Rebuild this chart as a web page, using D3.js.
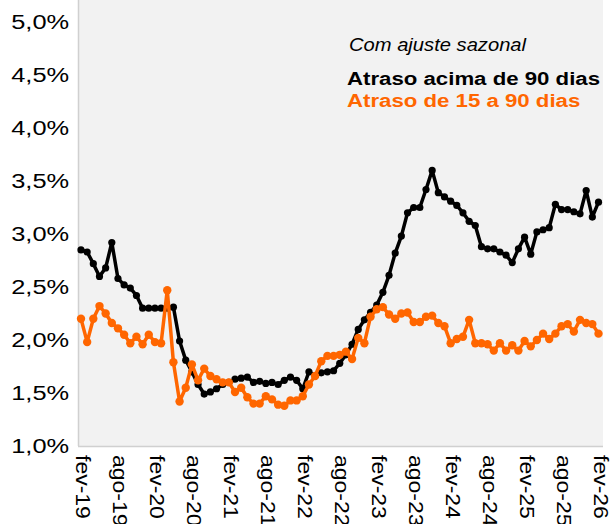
<!DOCTYPE html>
<html>
<head>
<meta charset="utf-8">
<script src="https://cdn.jsdelivr.net/npm/d3@7"></script>
<style>
  body { margin: 0; background: #fff; }
  text { font-family: 'Liberation Sans', Arial, sans-serif; }
</style>
</head>
<body>
<svg id="chart" width="611" height="524"></svg>
<script>
// monthly categories fev-19 .. fev-26
const monthNames = ['jan', 'fev', 'mar', 'abr', 'mai', 'jun', 'jul', 'ago', 'set', 'out', 'nov', 'dez'];
const months = d3.range(85).map((i) => {
  const m = (1 + i) % 12;
  const y = 19 + Math.floor((1 + i) / 12);
  return monthNames[m] + '-' + y;
});

const tickLabels = ['fev-19', 'ago-19', 'fev-20', 'ago-20', 'fev-21', 'ago-21', 'fev-22', 'ago-22',
  'fev-23', 'ago-23', 'fev-24', 'ago-24', 'fev-25', 'ago-25', 'fev-26'];
const yTicks = [1.0, 1.5, 2.0, 2.5, 3.0, 3.5, 4.0, 4.5, 5.0];

// Atraso acima de 90 dias (%)
const over90 = [
  2.85, 2.83, 2.72, 2.60, 2.68, 2.92, 2.58, 2.52, 2.49, 2.42,
  2.30, 2.30, 2.30, 2.30, 2.30, 2.31, 1.99, 1.81, 1.70, 1.58,
  1.49, 1.51, 1.54, 1.58, 1.60, 1.63, 1.64, 1.65, 1.60, 1.61,
  1.59, 1.60, 1.58, 1.62, 1.65, 1.62, 1.54, 1.70, 1.66, 1.69,
  1.70, 1.71, 1.78, 1.86, 1.96, 2.10, 2.19, 2.26, 2.33, 2.45,
  2.61, 2.82, 2.98, 3.20, 3.25, 3.25, 3.42, 3.60, 3.39, 3.35,
  3.31, 3.27, 3.20, 3.12, 3.08, 2.88, 2.86, 2.86, 2.83, 2.80,
  2.73, 2.86, 2.97, 2.81, 3.02, 3.04, 3.06, 3.28, 3.23, 3.23,
  3.21, 3.19, 3.41, 3.16, 3.30
];

// Atraso de 15 a 90 dias (%)
const from15to90 = [
  2.20, 1.98, 2.20, 2.32, 2.25, 2.16, 2.11, 2.05, 1.97, 2.03,
  1.96, 2.05, 1.98, 1.97, 2.47, 1.79, 1.42, 1.55, 1.77, 1.62,
  1.73, 1.66, 1.63, 1.60, 1.60, 1.51, 1.55, 1.46, 1.40, 1.40,
  1.47, 1.44, 1.39, 1.38, 1.43, 1.43, 1.47, 1.58, 1.66, 1.80,
  1.85, 1.85, 1.86, 1.89, 1.82, 2.02, 1.97, 2.22, 2.29, 2.31,
  2.24, 2.20, 2.25, 2.26, 2.17, 2.17, 2.22, 2.23, 2.16, 2.13,
  1.97, 2.01, 2.03, 2.19, 1.97, 1.97, 1.96, 1.90, 1.97, 1.90,
  1.95, 1.90, 1.99, 1.94, 2.00, 2.06, 2.01, 2.06, 2.13, 2.15,
  2.08, 2.19, 2.16, 2.15, 2.06
];

const seriesList = [
  { name: 'Atraso acima de 90 dias', values: over90, color: '#000000', r: 3.6 },
  { name: 'Atraso de 15 a 90 dias', values: from15to90, color: '#ff6600', r: 4.2 },
];

const plot = { left: 78, right: 603, top: 0, bottom: 446 };
const yTop = 22;

const svg = d3.select('#chart');

// plot area background
svg.append('rect')
  .attr('x', plot.left)
  .attr('y', plot.top)
  .attr('width', plot.right - plot.left)
  .attr('height', plot.bottom - plot.top)
  .attr('fill', '#f2f2f2');

const xScale = d3.scalePoint().domain(months).range([81, 598.5]);
const yScale = d3.scaleLinear().domain([1, 5]).range([plot.bottom, yTop]);

// axis borders
svg.append('line')
  .attr('x1', plot.left + 0.5).attr('x2', plot.left + 0.5)
  .attr('y1', plot.top).attr('y2', plot.bottom)
  .attr('stroke', '#d0d0d0').attr('stroke-width', 1.5);
svg.append('line')
  .attr('x1', plot.left).attr('x2', plot.right)
  .attr('y1', plot.bottom + 0.5).attr('y2', plot.bottom + 0.5)
  .attr('stroke', '#d0d0d0').attr('stroke-width', 1.5);

// Y axis
const yAxis = svg.append('g')
  .attr('transform', `translate(${plot.left},0)`)
  .call(d3.axisLeft(yScale).tickValues(yTicks).tickSize(0).tickPadding(7)
    .tickFormat((d) => d3.format('.1f')(d).replace('.', ',') + '%'));
yAxis.select('.domain').remove();
yAxis.selectAll('text')
  .attr('fill', '#000')
  .style('font-size', '20px')
  .attr('transform', 'scale(1.27,1)');

// X axis (rotated labels)
const xAxis = svg.append('g')
  .attr('transform', `translate(0,${plot.bottom})`)
  .call(d3.axisBottom(xScale).tickValues(tickLabels).tickSize(0));
xAxis.select('.domain').remove();
xAxis.selectAll('text')
  .attr('fill', '#000')
  .style('font-size', '20px')
  .attr('text-anchor', 'start')
  .attr('dy', '0.35em')
  .attr('transform', 'translate(2,9) rotate(90) scale(1.15,1)')
  .attr('x', 0)
  .attr('y', 0);

// lines + markers
const line = d3.line()
  .x((d, i) => xScale(months[i]))
  .y((d) => yScale(d));

seriesList.forEach((s) => {
  const g = svg.append('g');
  g.append('path')
    .datum(s.values)
    .attr('d', line)
    .attr('fill', 'none')
    .attr('stroke', s.color)
    .attr('stroke-width', 3.5)
    .attr('stroke-linejoin', 'round');
  g.selectAll('circle')
    .data(s.values)
    .enter()
    .append('circle')
    .attr('cx', (d, i) => xScale(months[i]))
    .attr('cy', (d) => yScale(d))
    .attr('r', s.r)
    .attr('fill', s.color);
});

// legend text
const legend = svg.append('g');
legend.append('text')
  .attr('transform', 'translate(349,51) scale(1.12,1)')
  .style('font-size', '18px')
  .style('font-style', 'italic')
  .attr('fill', '#000')
  .text('Com ajuste sazonal');

seriesList.forEach((s, i) => {
  legend.append('text')
    .attr('transform', `translate(347,${85 + i * 22}) scale(1.17,1)`)
    .style('font-size', '19px')
    .style('font-weight', 'bold')
    .attr('fill', s.color)
    .text(s.name);
});
</script>
</body>
</html>
